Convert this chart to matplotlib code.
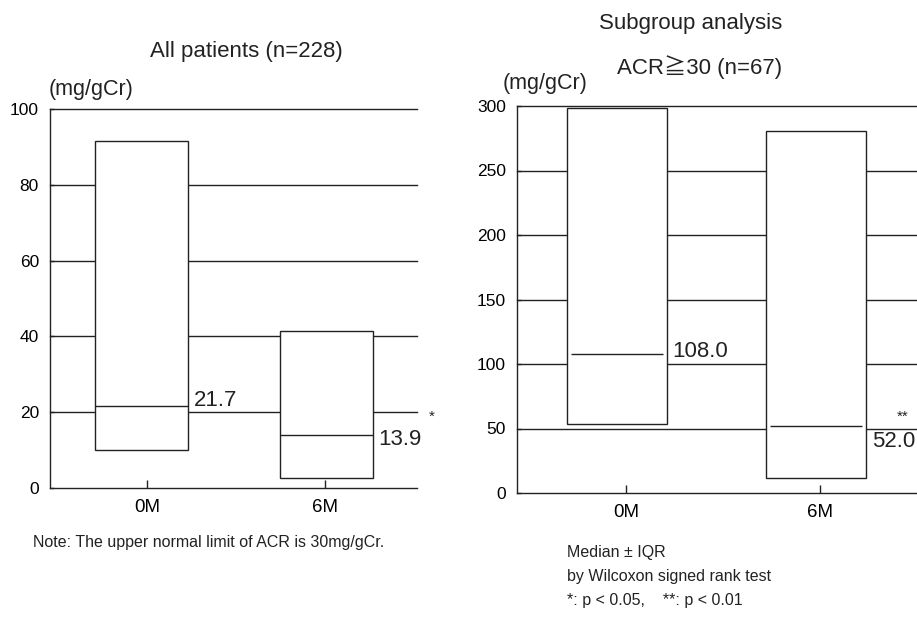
import matplotlib.pyplot as plt

plt.rcParams['font.family'] = ['Liberation Sans', 'Noto Sans CJK JP', 'DejaVu Sans']

groups = ['0M', '6M']

# All patients (n=228): median and interquartile range, mg/gCr
all_q1 = [10.0, 2.6]
all_q3 = [91.5, 41.5]
all_median = [21.7, 13.9]
all_yticks = [0, 20, 40, 60, 80, 100]

# Subgroup ACR>=30 (n=67)
sub_q1 = [53.5, 11.5]
sub_q3 = [298.5, 281.0]
sub_median = [108.0, 52.0]
sub_yticks = [0, 50, 100, 150, 200, 250, 300]

ink = '#222222'
W, H = 917, 621

fig = plt.figure(figsize=(W / 100, H / 100), dpi=100)


def px_rect(x0, x1, y_top, y_bot):
    return [x0 / W, 1 - y_bot / H, (x1 - x0) / W, (y_bot - y_top) / H]


def draw_panel(ax, q1, q3, med, yticks, xlim, width, shifts, inset, label_dy):
    for y in yticks[1:]:
        ax.axhline(y, color=ink, lw=1.0, zorder=1, clip_on=False)
    for i in range(len(groups)):
        x = i + shifts[i]
        ax.bar(x, q3[i] - q1[i], bottom=q1[i], width=width, facecolor='white',
               edgecolor=ink, lw=1.0, zorder=2)
        ax.hlines(med[i], x - width / 2 + inset, x + width / 2 - inset,
                  color=ink, lw=1.0, zorder=3)
        ax.annotate(f'{med[i]:.1f}', xy=(x + width / 2, med[i]),
                    xytext=(4, label_dy[i]), textcoords='offset points',
                    ha='left', va='center', fontsize=16, color=ink,
                    annotation_clip=False)
    ax.set_xlim(*xlim)
    ax.set_ylim(yticks[0], yticks[-1])
    ax.set_xticks(range(len(groups)))
    ax.set_xticklabels(groups, fontsize=13.5)
    ax.set_yticks(yticks)
    ax.tick_params(axis='y', direction='in', length=3, width=1.0, color=ink,
                   labelsize=12.5, pad=8)
    ax.tick_params(axis='x', direction='in', length=6, width=1.0, color=ink,
                   labelsize=13.5, pad=8)
    for side in ['top', 'right']:
        ax.spines[side].set_visible(False)
    for side in ['left', 'bottom']:
        ax.spines[side].set_color(ink)
        ax.spines[side].set_linewidth(1.0)


ax1 = fig.add_axes(px_rect(50, 417, 109, 488))
draw_panel(ax1, all_q1, all_q3, all_median, all_yticks,
           xlim=(-0.545, 1.517), width=0.52, shifts=[-0.03, 0.01],
           inset=0.0, label_dy=[4, -3])

ax2 = fig.add_axes(px_rect(517, 917, 106, 493))
draw_panel(ax2, sub_q1, sub_q3, sub_median, sub_yticks,
           xlim=(-0.562, 1.5), width=0.515, shifts=[-0.046, -0.02],
           inset=0.02, label_dy=[1.5, -11.5])

# titles, units and notes
def ftext(x, y, s, **kw):
    fig.text(x / W, 1 - y / H, s, color=ink, **kw)


ftext(246, 51, 'All patients (n=228)', ha='center', va='center', fontsize=16)
ftext(49, 89, '(mg/gCr)', ha='left', va='center', fontsize=15.5)
ftext(33, 543, 'Note: The upper normal limit of ACR is 30mg/gCr.',
      ha='left', va='center', fontsize=11.5)
ftext(429, 417, '*', ha='left', va='center', fontsize=11)

ftext(691, 23, 'Subgroup analysis', ha='center', va='center', fontsize=16)
ftext(700, 67, 'ACR≧30 (n=67)', ha='center', va='center', fontsize=16)
ftext(503, 83, '(mg/gCr)', ha='left', va='center', fontsize=15.5)
ftext(897, 417, '**', ha='left', va='center', fontsize=11)

ftext(567, 553, 'Median ± IQR', ha='left', va='center', fontsize=11.5)
ftext(567, 577, 'by Wilcoxon signed rank test', ha='left', va='center', fontsize=11.5)
ftext(567, 600, '*: p < 0.05,    **: p < 0.01', ha='left', va='center', fontsize=11.5)

fig.savefig('out.png', dpi=100)
